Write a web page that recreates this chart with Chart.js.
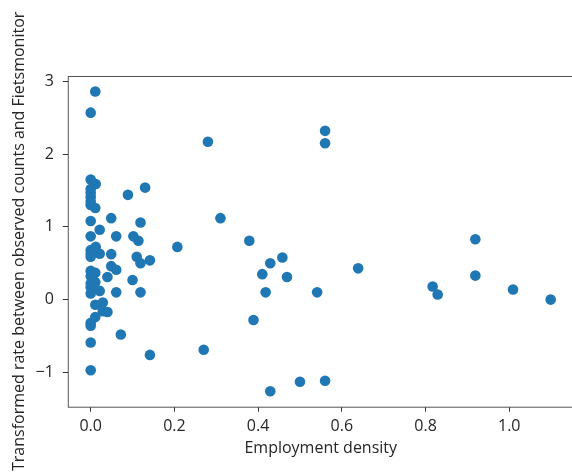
<!DOCTYPE html>
<html>
<head>
<meta charset="utf-8">
<script src="https://cdn.jsdelivr.net/npm/chart.js@4"></script>
<style>
  html, body { margin: 0; padding: 0; background: #fff; overflow: hidden; }
  #wrap { width: 572px; height: 475px; overflow: hidden; }
</style>
</head>
<body>
<div id="wrap"><canvas id="grafico" width="579" height="475"></canvas></div>
<script>
// employment density (x) vs transformed rate (y)
const empDensity = [
  0.011, 0, 0.28, 0.56, 0.56, 0, 0.012, 0, 0, 0,
  0, 0, 0.011, 0.089, 0.13, 0, 0.049, 0.119, 0.31, 0.0215,
  0, 0.061, 0.102, 0.114, 0.207, 0.379, 0.012, 0, 0, 0,
  0.0215, 0.049, 0.11, 0.1415, 0.119, 0.049, 0.061, 0, 0.011, 0,
  0.04, 0.10, 0, 0.011, 0, 0.0215, 0.061, 0.119, 0, 0.011,
  0.029, 0.029, 0.04, 0.011, 0, 0, 0.072, 0, 0.1415, 0.27,
  0, 0.41, 0.418, 0.429, 0.458, 0.469, 0.389, 0.429, 0.50, 0.56,
  0.541, 0.639, 0.817, 0.829, 0.919, 0.919, 1.009, 1.099
];
const transformedRate = [
  2.86, 2.57, 2.17, 2.32, 2.15, 1.65, 1.59, 1.52, 1.47, 1.41,
  1.35, 1.30, 1.26, 1.44, 1.54, 1.08, 1.12, 1.06, 1.12, 0.96,
  0.87, 0.87, 0.87, 0.81, 0.725, 0.81, 0.725, 0.68, 0.63, 0.59,
  0.63, 0.625, 0.59, 0.54, 0.50, 0.46, 0.41, 0.395, 0.37, 0.32,
  0.31, 0.27, 0.22, 0.24, 0.17, 0.12, 0.10, 0.10, 0.085, -0.07,
  -0.04, -0.16, -0.17, -0.24, -0.32, -0.36, -0.48, -0.59, -0.76, -0.69,
  -0.97, 0.35, 0.10, 0.50, 0.58, 0.31, -0.28, -1.26, -1.13, -1.115,
  0.10, 0.43, 0.18, 0.07, 0.83, 0.33, 0.14, 0.0
];
const xTicks = [0, 0.2, 0.4, 0.6, 0.8, 1.0];
const yTicks = [-1, 0, 1, 2, 3];

const fonte = { family: 'Open Sans', size: 16 };
const corTexto = '#262626';

// moldura nos quatro lados, como no matplotlib
const moldura = {
  id: 'moldura',
  afterDatasetsDraw(chart) {
    const { ctx, chartArea: a } = chart;
    ctx.save();
    ctx.strokeStyle = '#555';
    ctx.lineWidth = 1;
    ctx.strokeRect(a.left + 0.5, a.top + 0.5, a.right - a.left, a.bottom - a.top);
    ctx.restore();
  }
};

const pontos = empDensity.map((x, i) => ({ x, y: transformedRate[i] }));

new Chart(document.getElementById('grafico').getContext('2d'), {
  type: 'scatter',
  data: {
    datasets: [{
      data: pontos,
      backgroundColor: '#1f77b4',
      borderWidth: 0,
      pointRadius: 5.3,
      pointHoverRadius: 5.3
    }]
  },
  options: {
    responsive: false,
    animation: false,
    events: [],
    layout: { padding: { top: 76, right: 0, left: 0, bottom: 0 } },
    plugins: { legend: { display: false }, tooltip: { enabled: false } },
    scales: {
      x: {
        type: 'linear',
        min: -0.0547, max: 1.154,
        afterBuildTicks: s => { s.ticks = xTicks.map(v => ({ value: v })); },
        afterFit: s => { s.height = 68.3; },
        border: { display: false },
        grid: { drawOnChartArea: false, drawTicks: true, tickLength: 5, color: '#333' },
        ticks: { font: fonte, color: corTexto, padding: 5, maxRotation: 0, callback: v => v.toFixed(1) },
        title: { display: true, text: 'Employment density', font: fonte, color: corTexto, padding: { top: 0, bottom: 17 } }
      },
      y: {
        min: -1.472, max: 3.074,
        afterBuildTicks: s => { s.ticks = yTicks.map(v => ({ value: v })); },
        afterFit: s => { s.width = 67.8; },
        border: { display: false },
        grid: { drawOnChartArea: false, drawTicks: true, tickLength: 5, color: '#333' },
        ticks: { font: fonte, color: corTexto, padding: 9, callback: v => (v < 0 ? '\u2212' + Math.abs(v) : String(v)) },
        title: { display: true, text: 'Transformed rate between observed counts and Fietsmonitor', font: fonte, color: corTexto, padding: { top: 9.5, bottom: 0 } }
      }
    }
  },
  plugins: [moldura]
});
</script>
</body>
</html>
